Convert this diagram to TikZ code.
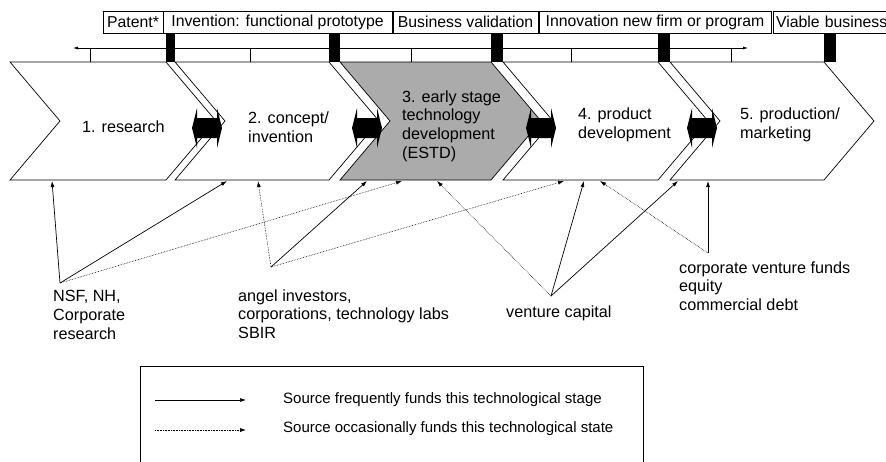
\documentclass[tikz,border=0pt]{standalone}
\usepackage{fontspec}
\setmainfont{Liberation Sans}
\usetikzlibrary{arrows.meta}
\definecolor{estdgray}{gray}{0.67}

\begin{document}
\begin{tikzpicture}[x=1pt,y=-1pt,
    often/.style={line width=0.7pt,-{Latex[length=6pt,width=4pt]}},
    seldom/.style={line width=0.6pt,densely dotted,-{Latex[length=6pt,width=4pt]}},
    lab/.style={anchor=west,align=left,inner sep=0pt,font=\fontsize{16.2}{18.7}\selectfont},
    milestone/.style={draw,line width=0.6pt,minimum height=22pt,inner sep=0pt,font=\fontsize{15.8}{18}\selectfont}]
  \useasboundingbox (0,0) rectangle (886,461);

  % milestones on top
  \node[milestone,minimum width=60pt] (patent) at (133,22) {Patent*};
  \node[milestone,minimum width=229pt] (invention) at (277.5,22) {Invention: functional prototype};
  \node[milestone,minimum width=145pt] (business) at (465.5,22) {Business validation};
  \node[milestone,minimum width=232pt] (innovation) at (655,22) {Innovation new firm or program};
  \node[milestone,minimum width=127pt,text width=121pt,align=left] (viable) at (836.5,22) {Viable business};

  % time line
  \coordinate (tl) at (73,48);
  \coordinate (tr) at (748,48);
  \draw[line width=0.6pt,{Latex[length=5pt,width=3pt]}-{Latex[length=5pt,width=3pt]}] (tl) -- (tr);
  \foreach \x in {90,250,411,571,731}
    \draw[line width=0.6pt] (\x,48) -- (\x,62);

  % stages
  \foreach \L/\R/\c in {10/166/white,175/329/white,340/491/estdgray,503/658/white,670/824/white}
    \draw[line width=0.7pt,fill=\c] (\L,62) -- (\R,62) -- ++(50,59) -- (\R,180) -- (\L,180) -- ++(50,-59) -- cycle;
  \foreach \a/\b in {166/175,329/340,491/503,658/670,824/836}
    \fill (\a,33) rectangle (\b,62);
  \foreach \x in {207,367,541,702}
    \fill (\x,128) ++(-15,0) -- ++(5,-20) -- ++(0,10) -- ++(20,0) -- ++(0,-10) -- ++(5,20)
      -- ++(-5,20) -- ++(0,-10) -- ++(-20,0) -- ++(0,10) -- cycle;

  \node[lab] (research) at (82,127) {1. research};
  \node[lab] (concept) at (248,127) {2. concept/\\invention};
  \node[lab] (estd) at (402,126) {3. early stage\\technology\\development\\(ESTD)};
  \node[lab] (product) at (578,125) {4. product\\development};
  \node[lab] (production) at (740,125) {5. production/\\marketing};

  % funding sources
  \node[lab] (nsf) at (53,315) {NSF, NH,\\Corporate\\research};
  \node[lab] (angel) at (238,314) {angel investors,\\corporations, technology labs\\SBIR};
  \node[lab] (vc) at (506,313) {venture capital};
  \node[lab] (corp) at (679,286) {corporate venture funds\\equity\\commercial debt};

  \coordinate (nsfTop) at (60,283);
  \coordinate (angelTop) at (271,267);
  \coordinate (vcTop) at (551,296);
  \coordinate (corpTop) at (708,253);

  \coordinate (s1a) at (52,181);
  \coordinate (s2a) at (227,181);
  \coordinate (s2b) at (258,181);
  \coordinate (s3a) at (367,181);
  \coordinate (s3b) at (402,181);
  \coordinate (s3c) at (437,181);
  \coordinate (s4a) at (564,181);
  \coordinate (s4b) at (584,181);
  \coordinate (s4c) at (600,181);
  \coordinate (s5a) at (678,181);
  \coordinate (s5b) at (708,181);

  \draw[often] (nsfTop) -- (s1a);
  \draw[often] (nsfTop) -- (s2a);
  \draw[seldom] (nsfTop) -- (s3b);
  \draw[seldom] (angelTop) -- (s2b);
  \draw[often] (angelTop) -- (s3a);
  \draw[seldom] (angelTop) -- (s4a);
  \draw[seldom] (vcTop) -- (s3c);
  \draw[often] (vcTop) -- (s4b);
  \draw[often] (vcTop) -- (s5a);
  \draw[seldom] (corpTop) -- (s4c);
  \draw[often] (corpTop) -- (s5b);

  % legend
  \draw[line width=0.7pt] (140,470) -- (140,366) -- (643,366) -- (643,470);
  \coordinate (k1a) at (155,400);
  \coordinate (k1b) at (246,400);
  \coordinate (k2a) at (155,430);
  \coordinate (k2b) at (246,430);
  \draw[often] (k1a) -- (k1b);
  \draw[seldom] (k2a) -- (k2b);
  \node[lab,font=\fontsize{15}{17}\selectfont] (keyoften) at (283,400) {Source frequently funds this technological stage};
  \node[lab,font=\fontsize{15}{17}\selectfont] (keyseldom) at (283,429) {Source occasionally funds this technological state};
\end{tikzpicture}
\end{document}
